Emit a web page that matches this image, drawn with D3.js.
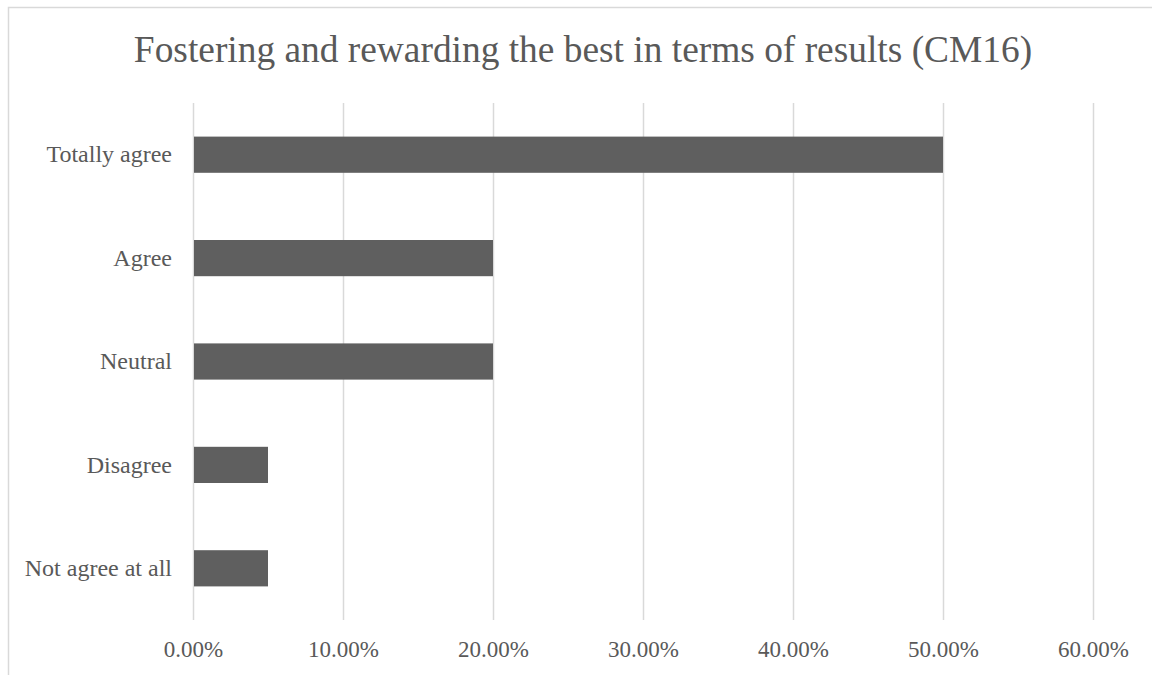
<!DOCTYPE html>
<html>
<head>
<meta charset="utf-8">
<script src="https://cdn.jsdelivr.net/npm/d3@7"></script>
<style>
body { margin: 0; background: #fff; }
text { font-family: "Liberation Serif", "Times New Roman", serif; }
</style>
</head>
<body>
<svg id="chart" width="1152" height="675"></svg>
<script>
const categories = ["Totally agree", "Agree", "Neutral", "Disagree", "Not agree at all"];
const values = [0.50, 0.20, 0.20, 0.05, 0.05];
const tickValues = [0, 0.1, 0.2, 0.3, 0.4, 0.5, 0.6];
const title = "Fostering and rewarding the best in terms of results (CM16)";

const svg = d3.select("#chart");
svg.append("rect").attr("x", 8.5).attr("y", 7.5).attr("width", 1160).attr("height", 700)
  .attr("fill", "#fff").attr("stroke", "#d9d9d9").attr("stroke-width", 1.5);

const plotLeft = 193, plotRight = 1093, plotTop = 103, plotBottom = 620;
const x = d3.scaleLinear().domain([0, 0.6]).range([plotLeft, plotRight]);
const y = d3.scaleBand().domain(categories).range([plotTop, plotBottom]).paddingInner(0.65).paddingOuter(0.325);

svg.append("text").attr("x", 583).attr("y", 62).attr("text-anchor", "middle")
  .attr("font-size", 37.4).attr("fill", "#595959").text(title);

svg.append("g").selectAll("line").data(tickValues).join("line")
  .attr("x1", d => Math.round(x(d)) + 0.5).attr("x2", d => Math.round(x(d)) + 0.5)
  .attr("y1", plotTop).attr("y2", plotBottom)
  .attr("stroke", "#d9d9d9").attr("stroke-width", 1.5);

svg.append("g").selectAll("rect").data(categories).join("rect")
  .attr("x", x(0) + 1).attr("y", d => y(d))
  .attr("width", (d, i) => x(values[i]) - x(0) - 1)
  .attr("height", y.bandwidth())
  .attr("fill", "#5f5f5f");

const xAxis = d3.axisBottom(x).tickValues(tickValues).tickSize(0).tickPadding(0)
  .tickFormat(d => (d * 100).toFixed(2) + "%");
const gx = svg.append("g").attr("transform", `translate(0, ${plotBottom})`).call(xAxis);
gx.select(".domain").remove();
gx.selectAll("text").attr("font-size", 23).attr("fill", "#595959")
  .attr("dy", null).attr("y", 37).attr("font-family", "Liberation Serif, serif");

const yAxis = d3.axisLeft(y).tickSize(0).tickPadding(21);
const gy = svg.append("g").attr("transform", `translate(${plotLeft}, 0)`).call(yAxis);
gy.select(".domain").remove();
gy.selectAll("text").attr("font-size", 24).attr("fill", "#595959")
  .attr("font-family", "Liberation Serif, serif");
</script>
</body>
</html>
